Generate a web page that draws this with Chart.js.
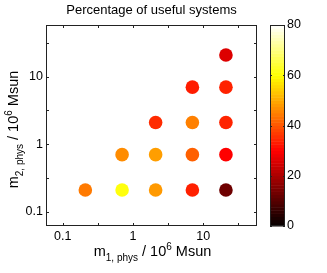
<!DOCTYPE html>
<html>
<head>
<meta charset="utf-8">
<script src="https://cdn.jsdelivr.net/npm/chart.js@4.4.0/dist/chart.umd.min.js"></script>
<style>
  html, body { margin: 0; padding: 0; background: #fff; }
</style>
</head>
<body>
<canvas id="myChart" width="327" height="273"></canvas>
<script>
// mass bins (both axes), 10^6 Msun
var massBins = [0.21, 0.7, 2.1, 7, 21];

// percentage of useful systems, one row per m2 bin (starting at m1 = m2)
var pctM2_0p21 = [44.3, 61, 48, 33.8, 12.9];
var pctM2_0p7  = [46.5, 48.6, 41.3, 30];
var pctM2_2p1  = [35, 45, 34.2];
var pctM2_7    = [33.3, 34];
var pctM2_21   = [26];

var tickVals = [0.1, 0.316, 1, 3.16, 10, 31.6];
var tickLabels = ["0.1", "1", "10"];
var cbTicks = [0, 20, 40, 60, 80];

var FONT = "'Liberation Sans', Arial, Helvetica, sans-serif";
var cbMax = 80;

// matlab "hot" colormap
function hot(v) {
  var t = Math.max(0, Math.min(1, v / cbMax));
  var r = Math.max(0.04, Math.min(1, t / 0.375));
  var g = Math.max(0, Math.min(1, (t - 0.375) / 0.375));
  var b = Math.max(0, Math.min(1, (t - 0.75) / 0.25));
  return "rgb(" + Math.round(r * 255) + "," + Math.round(g * 255) + "," + Math.round(b * 255) + ")";
}

var rows = [pctM2_0p21, pctM2_0p7, pctM2_2p1, pctM2_7, pctM2_21];
var points = [];
var colors = [];
for (var j = 0; j < rows.length; j++) {
  for (var k = 0; k < rows[j].length; k++) {
    points.push({ x: massBins[j + k], y: massBins[j], v: rows[j][k] });
    colors.push(hot(rows[j][k]));
  }
}

// draw text with sub/superscripts
function richText(ctx, parts, x, y) {
  var w = 0;
  parts.forEach(function (p) {
    ctx.font = p.size + "px " + FONT;
    p.w = ctx.measureText(p.t).width;
    w += p.w;
  });
  var cx = x - w / 2;
  ctx.textAlign = "left";
  ctx.textBaseline = "alphabetic";
  parts.forEach(function (p) {
    ctx.font = p.size + "px " + FONT;
    ctx.fillText(p.t, cx, y + (p.dy || 0));
    cx += p.w;
  });
}

function massLabel(n) {
  return [
    { t: "m", size: 14.5 },
    { t: n + ", phys", size: 10, dy: 5 },
    { t: " / 10", size: 14.5 },
    { t: "6", size: 10, dy: -6.5 },
    { t: " Msun", size: 14.5 }
  ];
}

var framePlugin = {
  id: "frame",
  beforeDatasetsDraw: function (chart) {
    var ctx = chart.ctx;
    var a = chart.chartArea;
    var xs = chart.scales.x, ys = chart.scales.y;
    ctx.save();
    ctx.strokeStyle = "#222";
    ctx.lineWidth = 1;
    ctx.strokeRect(a.left + 0.5, a.top + 0.5, a.right - a.left - 1, a.bottom - a.top - 1);
    ctx.beginPath();
    tickVals.forEach(function (v) {
      var px = Math.round(xs.getPixelForValue(v)) + 0.5;
      ctx.moveTo(px, a.bottom); ctx.lineTo(px, a.bottom - 3);
      ctx.moveTo(px, a.top); ctx.lineTo(px, a.top + 3);
      var py = Math.round(ys.getPixelForValue(v)) + 0.5;
      ctx.moveTo(a.left, py); ctx.lineTo(a.left + 3, py);
      ctx.moveTo(a.right, py); ctx.lineTo(a.right - 3, py);
    });
    ctx.stroke();
    ctx.restore();
  },
  afterDraw: function (chart) {
    var ctx = chart.ctx;
    var a = chart.chartArea;
    ctx.save();
    ctx.fillStyle = "#000";
    richText(ctx, massLabel("1"), (a.left + a.right) / 2 + 1, 256);

    ctx.save();
    ctx.translate(18, (a.top + a.bottom) / 2 + 4);
    ctx.rotate(-Math.PI / 2);
    richText(ctx, massLabel("2"), 0, 0);
    ctx.restore();

    // colorbar
    var bl = 270, br = 285, bt = a.top, bb = a.bottom;
    var n = 64;
    for (var i = 0; i < n; i++) {
      var y0 = bb - (i + 1) * (bb - bt) / n;
      ctx.fillStyle = hot((i + 0.5) * cbMax / n);
      ctx.fillRect(bl, y0, br - bl, (bb - bt) / n + 0.5);
    }
    ctx.strokeStyle = "#222";
    ctx.strokeRect(bl + 0.5, bt + 0.5, br - bl - 1, bb - bt - 1);
    ctx.fillStyle = "#000";
    ctx.font = "12.5px " + FONT;
    ctx.textAlign = "left";
    ctx.textBaseline = "middle";
    ctx.beginPath();
    cbTicks.forEach(function (v) {
      var py = bb - v / cbMax * (bb - bt);
      ctx.fillText(String(v), br + 2, py);
      var ly = Math.round(py) + 0.5;
      ctx.moveTo(bl, ly); ctx.lineTo(bl + 2, ly);
      ctx.moveTo(br, ly); ctx.lineTo(br - 2, ly);
    });
    ctx.stroke();
    ctx.restore();
  }
};

var ctx = document.getElementById("myChart");

var data = {
  datasets: [
    {
      label: "useful systems",
      data: points,
      pointBackgroundColor: colors,
      pointBorderWidth: 0,
      pointRadius: 6.8,
      showLine: false
    }
  ]
};

function logAxis(min, max, fitFn) {
  return {
    type: "logarithmic",
    min: min,
    max: max,
    grid: { display: false, drawTicks: false },
    border: { display: false },
    afterBuildTicks: function (scale) {
      scale.ticks = tickVals.map(function (v) { return { value: v }; });
    },
    afterFit: fitFn,
    ticks: {
      autoSkip: false,
      maxRotation: 0,
      padding: 3,
      color: "#000",
      font: { family: FONT, size: 12.5 },
      callback: function (value) {
        var s = String(value);
        return tickLabels.indexOf(s) >= 0 ? s : "";
      }
    }
  };
}

var options = {
  responsive: false,
  animation: false,
  layout: { padding: { left: 0, top: 0, right: 70, bottom: 0 } },
  plugins: {
    legend: { display: false },
    tooltip: { enabled: false },
    title: {
      display: true,
      fullSize: false,
      text: "Percentage of useful systems",
      color: "#000",
      font: { family: FONT, size: 13, weight: "normal" },
      padding: { top: 2.5, bottom: 6.9 }
    }
  },
  scales: {
    x: logAxis(0.0579, 58.1, function (s) { s.height = 47; }),
    y: logAxis(0.0614, 58.3, function (s) { s.width = 46; })
  }
};

var chart = new Chart(ctx, {
  type: "scatter",
  data: data,
  options: options,
  plugins: [framePlugin]
});
</script>
</body>
</html>
